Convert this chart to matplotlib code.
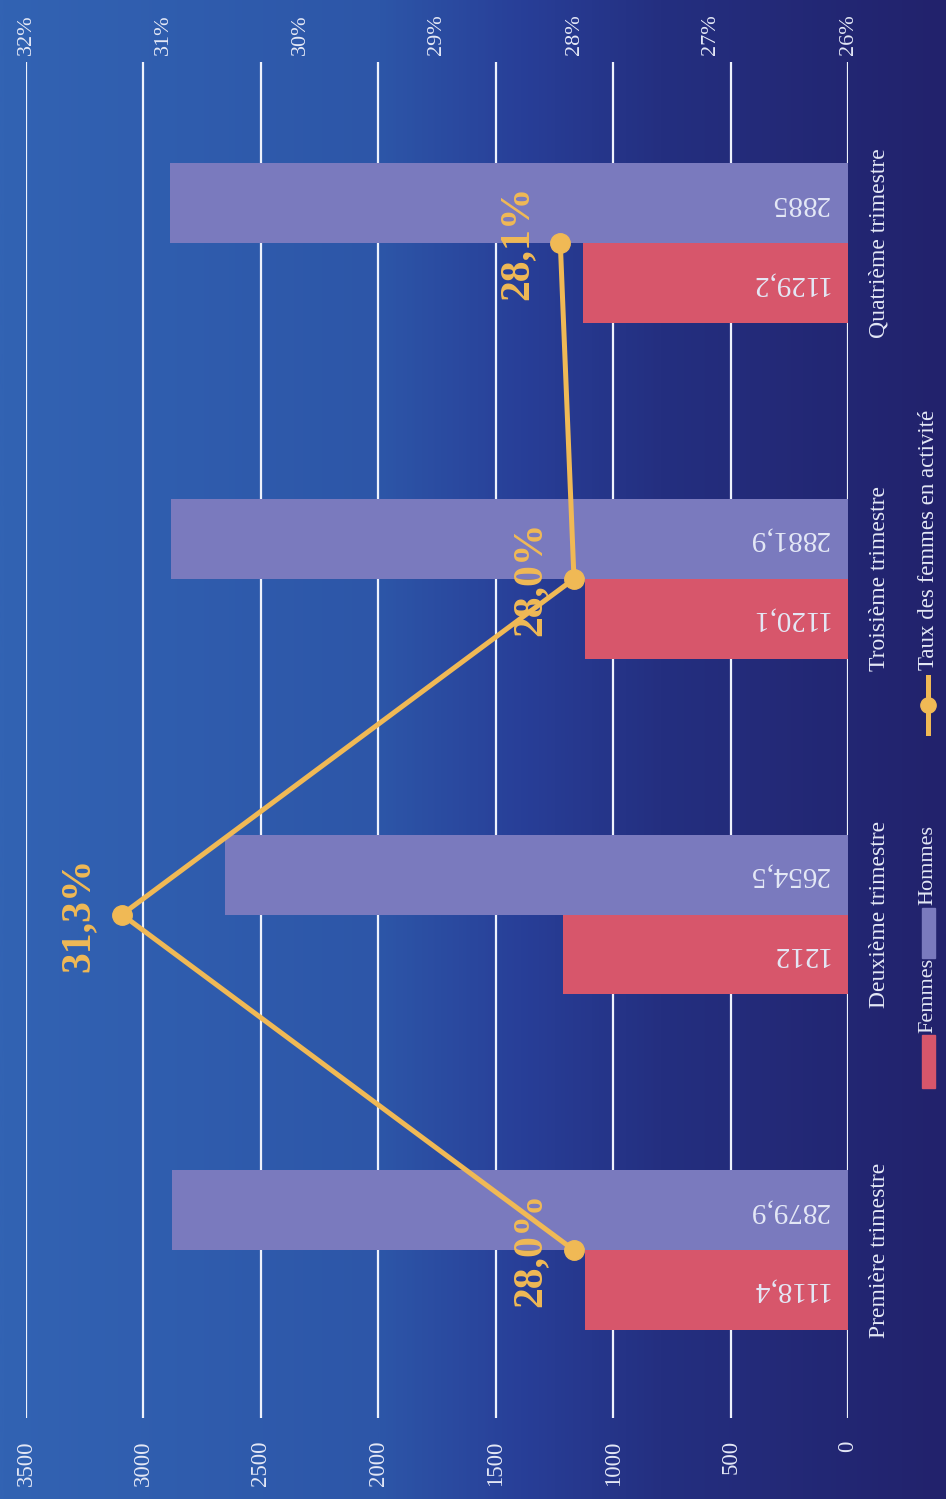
import numpy as np
from matplotlib import pyplot as plt
from matplotlib.colors import LinearSegmentedColormap
from matplotlib.patches import Rectangle
from matplotlib.lines import Line2D

plt.rcParams['font.family'] = ['Liberation Serif', 'DejaVu Serif']

# Data
categories = ['Première trimestre', 'Deuxième trimestre', 'Troisième trimestre', 'Quatrième trimestre']
femmes = [1118.4, 1212, 1120.1, 1129.2]
hommes = [2879.9, 2654.5, 2881.9, 2885]
femmes_labels = ['1118,4', '1212', '1120,1', '1129,2']
hommes_labels = ['2879,9', '2654,5', '2881,9', '2885']
taux = [28.0, 31.3, 28.0, 28.1]
taux_labels = ['28,0%', '31,3%', '28,0%', '28,1%']
value_ticks = [0, 500, 1000, 1500, 2000, 2500, 3000, 3500]
pct_ticks = [26, 27, 28, 29, 30, 31, 32]

c_femmes = '#d7566b'
c_hommes = '#7a7abe'
c_line = '#f0b955'
c_text = '#e4e8f6'

W, H = 946, 1499
fig = plt.figure(figsize=(W / 100, H / 100), dpi=100)

# Background gradient (left bright blue -> right dark navy)
bg = fig.add_axes([0, 0, 1, 1], zorder=-10)
cmap = LinearSegmentedColormap.from_list('bg', [(0.0, '#3263b3'), (0.4, '#2d56a8'),
                                                (0.55, '#283f98'), (0.7, '#242f80'),
                                                (1.0, '#22226c')])
bg.imshow(np.linspace(0, 1, 400).reshape(1, -1), aspect='auto', cmap=cmap, extent=[0, 1, 0, 1])
bg.axis('off')

# Main axes (rotated chart: values horizontal, 0 on the right)
left, right, top, bottom = 26, 848, 62, 1418
ax = fig.add_axes([left / W, (H - bottom) / H, (right - left) / W, (bottom - top) / H])
ax.set_facecolor('none')
y = np.arange(len(categories))
bh = 0.238
ax.barh(y - bh / 2, femmes, height=bh, color=c_femmes, zorder=3)
ax.barh(y + bh / 2, hommes, height=bh, color=c_hommes, zorder=3)
ax.set_xlim(3500, 0)
ax.set_ylim(-0.5, 3.54)
ax.set_xticks(value_ticks)
ax.set_xticklabels([str(v) for v in value_ticks], rotation=90)
ax.grid(axis='x', color='#eef2fc', linewidth=1.6)
ax.set_axisbelow(True)
ax.set_yticks(y)
ax.set_yticklabels(categories, rotation=90, va='center')
ax.yaxis.tick_right()
ax.tick_params(axis='x', length=0, pad=16, labelsize=16.5, labelcolor=c_text)
ax.tick_params(axis='y', length=0, pad=15, labelsize=17, labelcolor=c_text)
for s in ax.spines.values():
    s.set_visible(False)

for i in range(len(categories)):
    ax.annotate(femmes_labels[i], xy=(0, y[i] - bh / 2), xytext=(-14, 0), textcoords='offset points',
                rotation=180, ha='right', va='center', fontsize=21, color=c_text, zorder=4)
    ax.annotate(hommes_labels[i], xy=(0, y[i] + bh / 2), xytext=(-14, 0), textcoords='offset points',
                rotation=180, ha='right', va='center', fontsize=21, color=c_text, zorder=4)

# Secondary axis for the rate
ax2 = ax.twiny()
ax2.set_facecolor('none')
ax2.set_xlim(32, 26)
ax2.set_xticks(pct_ticks)
ax2.set_xticklabels([str(p) + '%' for p in pct_ticks], rotation=90)
ax2.tick_params(axis='x', length=0, pad=5, labelsize=16, labelcolor=c_text)
for s in ax2.spines.values():
    s.set_visible(False)
ax2.plot(taux, y, color=c_line, linewidth=3.6, marker='o', markersize=14, zorder=5)
for i in range(len(categories)):
    ax2.annotate(taux_labels[i], xy=(taux[i], y[i]), xytext=(-31, 0), textcoords='offset points',
                 rotation=90, ha='center', va='center', fontsize=30, fontweight='bold', color=c_line)

# Legend, drawn by hand since it is rotated
lx = 928 / W
fig.add_artist(Rectangle((922 / W, (H - 1088) / H), 13 / W, 53 / H, color=c_femmes, transform=fig.transFigure))
fig.text(lx, (H - 1033) / H, 'Femmes', rotation=90, ha='center', va='bottom', fontsize=16, color=c_text)
fig.add_artist(Rectangle((922 / W, (H - 958) / H), 13 / W, 50 / H, color=c_hommes, transform=fig.transFigure))
fig.text(lx, (H - 905) / H, 'Hommes', rotation=90, ha='center', va='bottom', fontsize=16, color=c_text)
fig.add_artist(Line2D([lx, lx], [(H - 733) / H, (H - 677) / H], color=c_line, linewidth=3.6,
                      transform=fig.transFigure))
fig.add_artist(Line2D([lx], [(H - 705) / H], color=c_line, marker='o', markersize=11,
                      transform=fig.transFigure))
fig.text(lx, (H - 670) / H, 'Taux des femmes en activité', rotation=90, ha='center', va='bottom',
         fontsize=16.5, color=c_text)

fig.savefig('out.png', dpi=100)
